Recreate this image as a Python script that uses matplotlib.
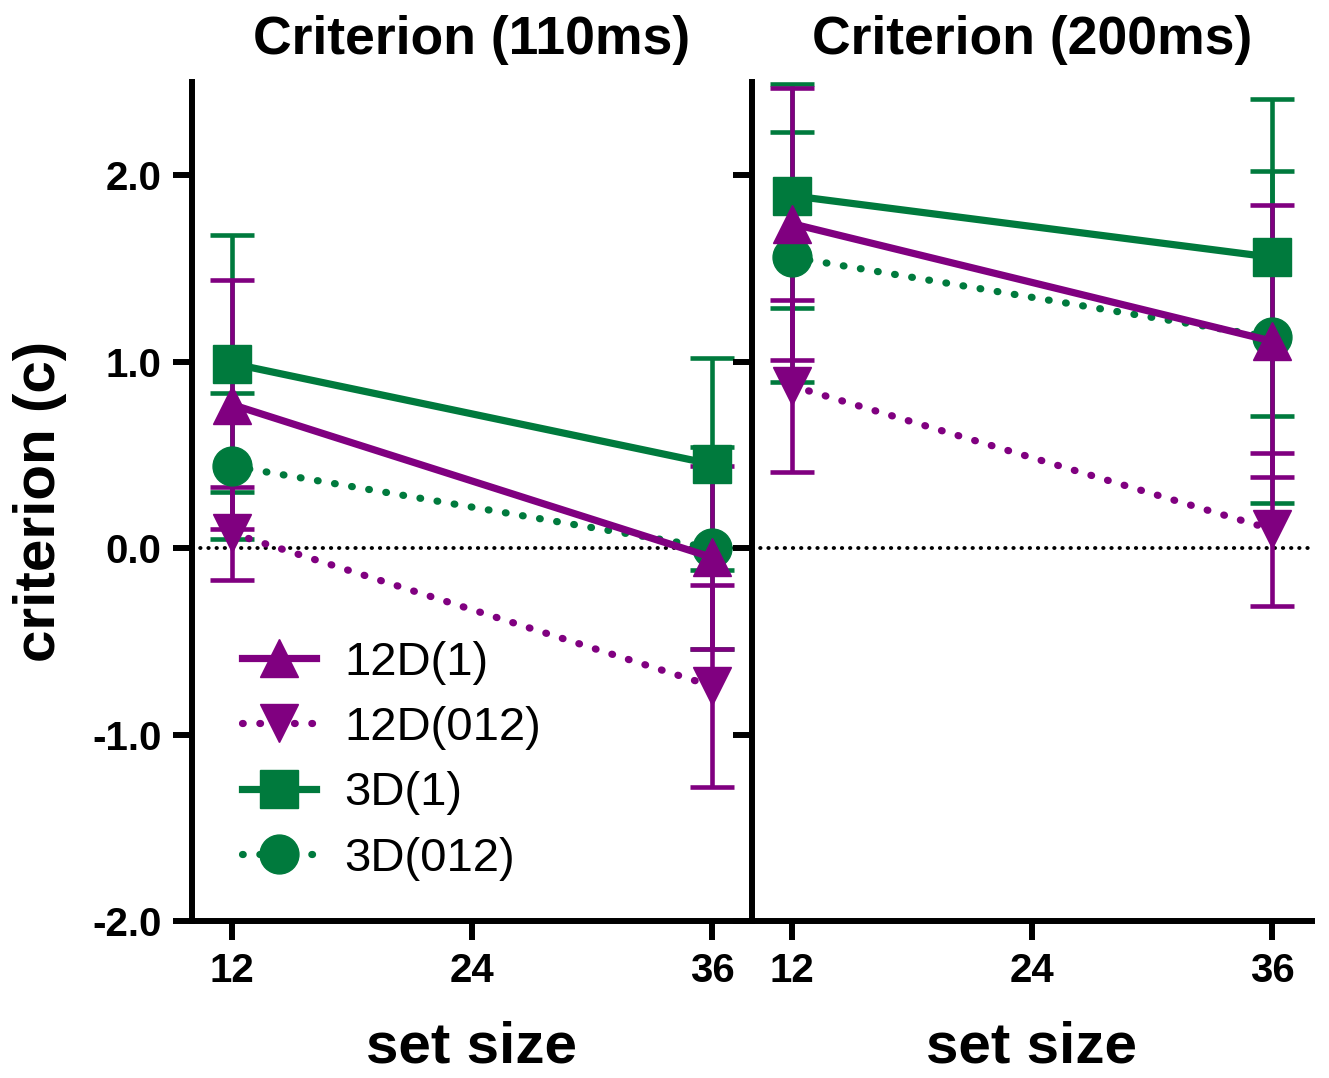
import matplotlib
matplotlib.use("Agg")
import matplotlib.pyplot as plt
from matplotlib.lines import Line2D

plt.rcParams['font.family'] = ['Liberation Sans', 'DejaVu Sans']

# set sizes on the x axis
set_size = [12, 36]

# criterion (c) means and error bars, 110ms panel
c110_12d1 = [0.77, -0.05]
e110_12d1 = [0.67, 0.49]
c110_12d012 = [0.08, -0.74]
e110_12d012 = [0.25, 0.54]
c110_3d1 = [0.99, 0.45]
e110_3d1 = [0.69, 0.57]
c110_3d012 = [0.44, 0.0]
e110_3d012 = [0.39, 0.54]

# 200ms panel
c200_12d1 = [1.74, 1.11]
e200_12d1 = [0.73, 0.73]
c200_12d012 = [0.87, 0.10]
e200_12d012 = [0.46, 0.41]
c200_3d1 = [1.89, 1.56]
e200_3d1 = [0.60, 0.85]
c200_3d012 = [1.56, 1.13]
e200_3d012 = [0.67, 0.89]

titles = ['Criterion (110ms)', 'Criterion (200ms)']
labels = ['12D(1)', '12D(012)', '3D(1)', '3D(012)']
yticks = [-2.0, -1.0, 0.0, 1.0, 2.0]
xticks = [12, 24, 36]

purple = '#800080'
green = '#007A3D'
dots = (0, (0.1, 2.3))

# label -> (colour, marker, linestyle)
styles = {
    '12D(1)': (purple, '^', '-'),
    '12D(012)': (purple, 'v', dots),
    '3D(1)': (green, 's', '-'),
    '3D(012)': (green, 'o', dots),
}

panels = [
    {'3D(1)': (c110_3d1, e110_3d1), '3D(012)': (c110_3d012, e110_3d012),
     '12D(1)': (c110_12d1, e110_12d1), '12D(012)': (c110_12d012, e110_12d012)},
    {'3D(1)': (c200_3d1, e200_3d1), '3D(012)': (c200_3d012, e200_3d012),
     '12D(1)': (c200_12d1, e200_12d1), '12D(012)': (c200_12d012, e200_12d012)},
]

W, H = 1329, 1078
fig = plt.figure(figsize=(W / 100, H / 100), dpi=100)
ax1 = fig.add_axes([192 / W, 157 / H, 560 / W, 839 / H])
ax2 = fig.add_axes([752 / W, 157 / H, 560 / W, 839 / H])
axes = [ax1, ax2]

for i, ax in enumerate(axes):
    ax.axhline(0, color='black', lw=2.8, ls=(0, (0.1, 2.0)),
               dash_capstyle='round', zorder=1)
    # green first so the purple series sit on top
    for lab in ['3D(1)', '3D(012)', '12D(1)', '12D(012)']:
        col, mk, ls = styles[lab]
        y, err = panels[i][lab]
        eb = ax.errorbar(set_size, y, yerr=err, color=col, marker=mk, ms=28,
                         lw=5.2, ls=ls, elinewidth=3.3, capsize=16,
                         capthick=3.3, clip_on=False, zorder=3)
        eb.lines[0].set_dash_capstyle('round')

    ax.set_xlim(10, 38)
    ax.set_ylim(-2.0, 2.5)
    ax.set_xticks(xticks)
    ax.set_yticks(yticks)
    for s in ['top', 'right']:
        ax.spines[s].set_visible(False)
    for s in ['left', 'bottom']:
        ax.spines[s].set_linewidth(4.3)
    ax.tick_params(width=4.3, length=14, labelsize=29, pad=8)
    for t in ax.get_xticklabels() + ax.get_yticklabels():
        t.set_fontweight('bold')
    ax.set_title(titles[i], fontsize=38.5, fontweight='bold', pad=20)
    ax.set_xlabel('set size', fontsize=42, fontweight='bold', labelpad=22)
    ax.patch.set_alpha(0)

ax1.set_yticklabels(['%.1f' % v for v in yticks], fontweight='bold')
ax2.set_yticklabels([])
ax1.set_ylabel('criterion (c)', fontsize=42, fontweight='bold', labelpad=18)

handles = []
for lab in labels:
    col, mk, ls = styles[lab]
    h = Line2D([], [], color=col, marker=mk, ms=28, lw=5.2, ls=ls,
               dash_capstyle='round')
    handles.append(h)
ax1.legend(handles, labels, loc='upper left', bbox_to_anchor=(0.09, 0.334),
           frameon=False, fontsize=34, handlelength=1.55, handletextpad=0.6,
           labelspacing=0.45, borderpad=0, borderaxespad=0)

fig.savefig('out.png', dpi=100)
